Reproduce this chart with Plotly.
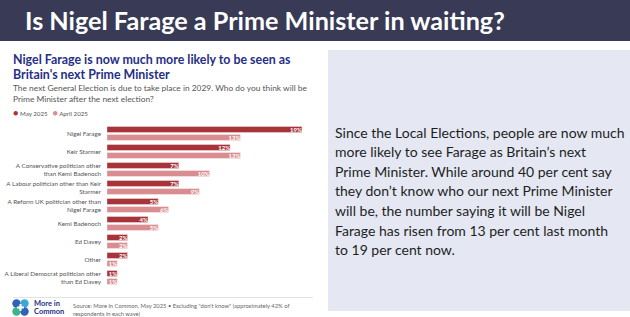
import plotly.graph_objects as go

W, H = 630, 317

categories = [
    "Nigel Farage",
    "Keir Starmer",
    "A Conservative politician other<br>than Kemi Badenoch",
    "A Labour politician other than Keir<br>Starmer",
    "A Reform UK politician other than<br>Nigel Farage",
    "Kemi Badenoch",
    "Ed Davey",
    "Other",
    "A Liberal Democrat politician other<br>than Ed Davey",
]
may_2025 = [19, 12, 7, 7, 5, 4, 2, 2, 1]
april_2025 = [13, 13, 10, 9, 6, 5, 2, 1, 1]

MAY_COLOR = "#a8343a"
APR_COLOR = "#d98d91"

def px_x(p):
    return p / W

def px_y(p):
    return 1 - p / H

fig = go.Figure()
for name, vals, col in [("May 2025", may_2025, MAY_COLOR), ("April 2025", april_2025, APR_COLOR)]:
    fig.add_trace(go.Bar(
        name=name, y=categories, x=vals, orientation="h",
        marker=dict(color=col, line=dict(color="rgba(255,255,255,0.6)", width=0.6)),
        text=[f"{v}%" for v in vals], textposition="inside", insidetextanchor="end",
        constraintext="none", textangle=0,
        textfont=dict(family="Lato", size=6, color="white", weight="bold"),
        showlegend=False, cliponaxis=False,
    ))

fig.update_layout(
    width=W, height=H, margin=dict(l=0, r=0, t=0, b=0),
    paper_bgcolor="white", plot_bgcolor="rgba(0,0,0,0)",
    barmode="group", bargap=2/18, bargroupgap=0.25,
    xaxis=dict(domain=[px_x(107), px_x(320)], range=[0, (320-107)/10.26],
               showgrid=False, zeroline=False, showticklabels=False, fixedrange=True),
    yaxis=dict(domain=[px_y(286.5), px_y(124.5)], range=[8.5, -0.5],
               showgrid=False, zeroline=False, ticks="", ticklabelstandoff=5,
               tickfont=dict(family="Lato", size=6.3, color="#555555")),
)

shapes = []
shapes.append(dict(type="rect", xref="paper", yref="paper", x0=0, x1=1, y0=px_y(41), y1=1,
                   fillcolor="#383a56", line=dict(width=0), layer="below"))
shapes.append(dict(type="rect", xref="paper", yref="paper", x0=px_x(328), x1=1, y0=px_y(311), y1=px_y(50),
                   fillcolor="#e5e8f3", line=dict(width=0), layer="below"))
shapes.append(dict(type="line", xref="paper", yref="paper", x0=px_x(13), x1=px_x(313), y0=px_y(297.5), y1=px_y(297.5),
                   line=dict(color="#e3e3e3", width=1)))
logo = [(16.5, 303.5, "#2f63b5"), (24.5, 303.5, "#3fa7d6"), (16.5, 311.5, "#3cb38a"), (24.5, 311.5, "#2f63b5")]
for cx, cy, col in logo:
    shapes.append(dict(type="circle", xref="paper", yref="paper",
                       x0=px_x(cx-4.2), x1=px_x(cx+4.2), y0=px_y(cy+4.2), y1=px_y(cy-4.2),
                       fillcolor=col, line=dict(width=0)))
shapes.append(dict(type="rect", xref="paper", yref="paper", x0=px_x(19.5), x1=px_x(21.5), y0=px_y(311), y1=px_y(304),
                   fillcolor="white", line=dict(width=0)))
shapes.append(dict(type="rect", xref="paper", yref="paper", x0=px_x(17), x1=px_x(24), y0=px_y(308.5), y1=px_y(306.5),
                   fillcolor="white", line=dict(width=0)))
fig.update_layout(shapes=shapes)

ann = []
def text(x, y, s, size, color, family="Lato", weight="normal", anchor="left", yanchor="middle"):
    ann.append(dict(xref="paper", yref="paper", x=px_x(x), y=px_y(y), text=s, showarrow=False,
                    xanchor=anchor, yanchor=yanchor, align="left",
                    font=dict(family=family, size=size, color=color, weight=weight)))

text(23, 20, "Is Nigel Farage a Prime Minister in waiting?", 25.2, "white", weight="bold")
text(11, 60, "Nigel Farage is now much more likely to be seen as", 12.4, "#262f86", weight="bold")
text(11, 74, "Britain's next Prime Minister", 12.4, "#262f86", weight="bold")
text(11, 88, "The next General Election is due to take place in 2029. Who do you think will be", 8.4, "#555555")
text(11, 99, "Prime Minister after the next election?", 8.4, "#555555")
text(11, 112, f"<span style='color:{MAY_COLOR};font-size:9px'>●</span> May 2025   <span style='color:{APR_COLOR};font-size:9px'>●</span> April 2025", 6.2, "#555555")
text(32, 303.5, "More in", 7.5, "#262f86", weight="bold")
text(32, 311.5, "Common", 7.5, "#262f86", weight="bold")
text(71, 305.5, "Source: More in Common, May 2025 • Excluding \"don't know\" (approximately 42% of", 5.8, "#666666")
text(71, 313, "respondents in each wave)", 5.8, "#666666")

panel_lines = [
    "Since the Local Elections, people are now much",
    "more likely to see Farage as Britain’s next",
    "Prime Minister. While around 40 per cent say",
    "they don’t know who our next Prime Minister",
    "will be, the number saying it will be Nigel",
    "Farage has risen from 13 per cent last month",
    "to 19 per cent now.",
]
for i, line in enumerate(panel_lines):
    text(333, 132 + i * 19.6, line, 14.0, "#1e1e1e")

fig.update_layout(annotations=ann)
fig.write_html("out.html")
